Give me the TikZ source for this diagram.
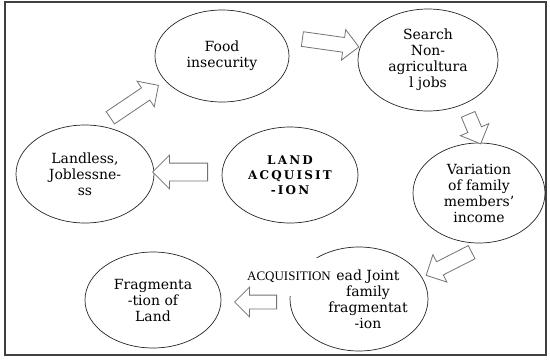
\documentclass[tikz,border=0pt]{standalone}
\usepackage{fontspec}
\setmainfont{DejaVu Serif}
\newfontfamily\acqfont{Liberation Serif}
\usetikzlibrary{shapes.geometric}
\usetikzlibrary{shapes.arrows}

\begin{document}
\begin{tikzpicture}[x = 1pt, y = -1pt,
  bubble/.style = {ellipse, draw = black!85, line width = .7pt,
  inner sep = 0pt, align = center, font = \fontsize{14}{16}\selectfont},
  fatarrow/.style = {single arrow, draw = black!55, fill = white,
  line width = .8pt, anchor = tail, inner sep = 0pt, minimum width = 0pt,
  text height = 14pt, text depth = 0pt, single arrow head extend = 8pt,
  single arrow head indent = 0pt}]
  \useasboundingbox (0, 0) rectangle (550, 360);
  \draw[line width = 1.2pt, black!75] (5, 2) rectangle (546, 355);

  \node[bubble, minimum width = 134, minimum height = 92] (food) at (222, 56)
  {Food\\insecurity};
  \node[bubble, minimum width = 140, minimum height = 102] (search)
  at (428, 60) {Search\\Non-\\agricultura\\l jobs};
  \node[bubble, minimum width = 132, minimum height = 100] (income)
  at (479, 193) {Variation\\of family\\members'\\income};
  \node[bubble, minimum width = 136, minimum height = 96,
  font = \fontsize{12}{15}\selectfont\bfseries\addfontfeature{LetterSpace = 18}]
  (land) at (290, 175) {LAND\\ACQUISIT\\-ION};
  \node[bubble, minimum width = 138, minimum height = 98] (jobless)
  at (85, 174) {Landless,\\Joblessne-\\ss};
  \node[bubble, minimum width = 136, minimum height = 96] (fragment)
  at (153, 300) {Fragmenta\\-tion of\\Land};
  \node[bubble, minimum width = 138, minimum height = 104] (joint)
  at (359, 299) {};
  \node[align = center, font = \fontsize{14}{16}\selectfont, inner sep = 0pt]
  (jointtxt) at ([xshift = 9]joint.center) {ead Joint\\family\\fragmentat\\-ion};
  \node[fill = white, font = \acqfont\fontsize{13}{15}\selectfont,
  minimum width = 86, minimum height = 38, inner sep = 0pt] (acq)
  at (289, 277) {ACQUISITION};

  \node[fatarrow, rotate = 34, minimum height = 58] (a1) at (110, 118) {};
  \node[fatarrow, rotate = -8, minimum height = 57] (a2) at (302, 39) {};
  \node[fatarrow, rotate = -67, minimum height = 32] (a3) at (468, 114) {};
  \node[fatarrow, rotate = 207, minimum height = 51] (a4) at (472, 252) {};
  \node[fatarrow, rotate = 180, minimum height = 55, text height = 17pt]
  (a5) at (208, 172) {};
  \node[fatarrow, rotate = 180, minimum height = 42, text height = 13pt]
  (a6) at (277, 302) {};
\end{tikzpicture}
\end{document}
